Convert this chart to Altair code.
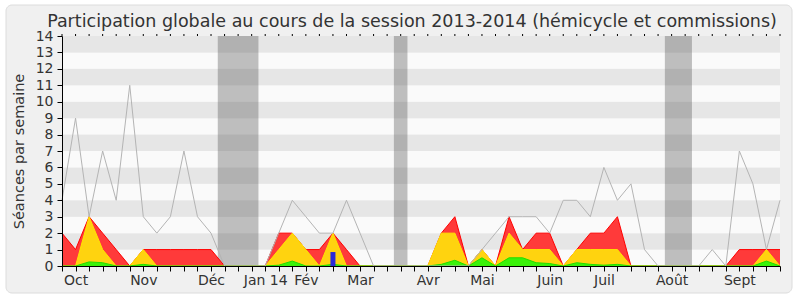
import altair as alt
import pandas as pd

title_text = "Participation globale au cours de la session 2013-2014 (hémicycle et commissions)"

weeks = list(range(54))
gray_total = [4, 9, 3, 7, 4, 11, 3, 2, 3, 7, 3, 2, 0, 0, 0, 0, 2, 4, 3, 2,
              2, 4, 2, 0, 0, 0, 0, 0, 0, 0, 0, 1, 2, 3, 3, 3, 2, 4, 4, 3,
              6, 4, 5, 1, 0, 0, 0, 0, 1, 0, 7, 5, 1, 4]
red_vals = [2, 1, 3, 2, 1, 0, 1, 1, 1, 1, 1, 1, 0, 0, 0, 0, 2, 2, 1, 1,
            2, 1, 0, 0, 0, 0, 0, 0, 2, 3, 0, 1, 0, 3, 1, 2, 2, 0, 1, 2,
            2, 3, 0, 0, 0, 0, 0, 0, 0, 0, 1, 1, 1, 1]
yellow_vals = [0, 0, 3, 1, 0, 0, 1, 0, 0, 0, 0, 0, 0, 0, 0, 0, 1, 2, 1, 0,
               2, 0, 0, 0, 0, 0, 0, 0, 2, 2, 0, 1, 0, 2, 1, 1, 1, 0, 1, 1,
               1, 1, 0, 0, 0, 0, 0, 0, 0, 0, 0, 0, 1, 0]
green_vals = [0, 0, 0.25, 0.2, 0, 0, 0.1, 0, 0, 0, 0, 0, 0, 0, 0, 0, 0.05, 0.3, 0, 0,
              0.1, 0, 0, 0, 0, 0, 0, 0, 0.1, 0.35, 0, 0.5, 0, 0.5, 0.5, 0.2, 0.15, 0, 0.2, 0.1,
              0.05, 0.1, 0, 0, 0, 0, 0, 0, 0, 0, 0, 0, 0.3, 0]
blue_weeks = [20]
blue_vals = [0.85]

month_weeks = [1, 6, 11, 15, 18, 22, 27, 31, 36, 40, 45, 50]
month_labels = ["Oct", "Nov", "Déc", "Jan 14", "Fév", "Mar", "Avr", "Mai",
                "Juin", "Juil", "Août", "Sept"]

vac_start = [11.5, 24.5, 44.5]
vac_end = [14.5, 25.5, 46.5]

df = pd.DataFrame({"week": weeks, "total": gray_total, "red": red_vals,
                   "yellow": yellow_vals, "green": green_vals})
blue_df = pd.DataFrame({"week": blue_weeks, "val": blue_vals})
vac_df = pd.DataFrame({"start": vac_start, "end": vac_end})
stripe_df = pd.DataFrame({"lo": list(range(14))})
title_df = pd.DataFrame({"t": [title_text]})

xscale = alt.Scale(domain=[0, 53], nice=False, zero=False, padding=0)
yscale = alt.Scale(domain=[0, 14], nice=False, padding=0)

label_expr = ""
for w, l in zip(month_weeks, month_labels):
    label_expr += f"datum.value == {w} ? '{l}' : "
label_expr += "''"

x_axis = alt.Axis(
    orient="bottom", values=weeks, labelExpr=label_expr, labelOverlap=False,
    labelFlush=False, tickSize=5, tickColor="#000000", domainColor="#000000",
    labelFontSize=14, labelColor="#333333", labelFont="DejaVu Sans",
    labelPadding=2, grid=False, title=None, zindex=2)
y_axis = alt.Axis(
    orient="left", values=list(range(15)), tickSize=5, tickColor="#000000",
    domainColor="#000000", labelFontSize=14, labelColor="#333333",
    labelFont="DejaVu Sans", labelPadding=4, grid=False,
    title="Séances par semaine", titleFontSize=14.5, titleFont="DejaVu Sans",
    titleColor="#333333", titleFontWeight="normal", titlePadding=9, zindex=2)

frame = alt.Chart(pd.DataFrame({"k": [0]})).mark_rect(
    fill="#f0f0f0", stroke="#dcdcdc", strokeWidth=1, cornerRadius=6
).encode(x=alt.value(-56), x2=alt.value(730), y=alt.value(-31), y2=alt.value(257))

title_mark = alt.Chart(title_df).mark_text(
    font="DejaVu Sans", fontSize=17.5, color="#333333", align="center",
    baseline="alphabetic"
).encode(text="t:N", x=alt.value(350), y=alt.value(-9.5))

stripes = alt.Chart(stripe_df).transform_calculate(
    hi="datum.lo + 1",
    fillc="datum.lo % 2 == 1 ? '#e6e6e6' : '#fafafa'",
    x0="0", x1="53"
).mark_rect().encode(
    x=alt.X("x0:Q", scale=xscale, axis=x_axis),
    x2="x1:Q",
    y=alt.Y("lo:Q", scale=yscale, axis=y_axis),
    y2="hi:Q",
    fill=alt.Fill("fillc:N", scale=None),
)

vac = alt.Chart(vac_df).transform_calculate(
    y0="0", y1="14"
).mark_rect(fill="#4c4c4c", opacity=0.35).encode(
    x=alt.X("start:Q", scale=xscale, axis=x_axis),
    x2="end:Q",
    y=alt.Y("y1:Q", scale=yscale, axis=y_axis),
    y2="y0:Q",
)

def area(field, fill, stroke):
    return alt.Chart(df).mark_area(
        color=fill, opacity=1, line={"color": stroke, "strokeWidth": 1}
    ).encode(
        x=alt.X("week:Q", scale=xscale, axis=x_axis),
        y=alt.Y(f"{field}:Q", scale=yscale, axis=y_axis, stack=None),
    )

red = area("red", "#ff3a3a", "#ff0000")
yellow = area("yellow", "#ffd30f", "#ffe400")
green = area("green", "#3af20a", "#22dd00")

blue = alt.Chart(blue_df).mark_bar(size=5, color="#2a2ad8").encode(
    x=alt.X("week:Q", scale=xscale, axis=x_axis),
    y=alt.Y("val:Q", scale=yscale, axis=y_axis),
)

line = alt.Chart(df).mark_line(color="#b4b4b4", strokeWidth=1).encode(
    x=alt.X("week:Q", scale=xscale, axis=x_axis),
    y=alt.Y("total:Q", scale=yscale, axis=y_axis),
)

top_ticks = alt.Chart(df).mark_rule(color="#000000", strokeWidth=1).encode(
    x=alt.X("week:Q", scale=xscale, axis=x_axis),
    y=alt.value(-2),
    y2=alt.value(0),
)

chart = alt.layer(frame, title_mark, stripes, vac, red, yellow, green, blue, line, top_ticks).properties(
    width=718, height=230,
    padding={"left": 62, "top": 36, "right": 20, "bottom": 34},
    autosize=alt.AutoSizeParams(type="none"),
    background="white",
).configure_view(stroke=None)

chart.save("out.html", embed_options={"renderer": "svg", "actions": False})
